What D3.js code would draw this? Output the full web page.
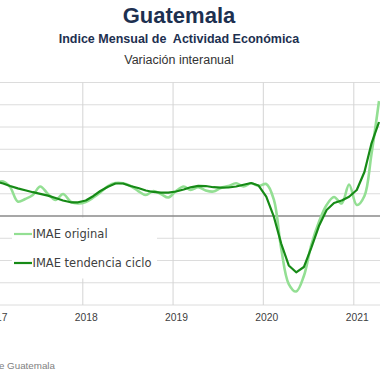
<!DOCTYPE html>
<html><head><meta charset="utf-8">
<script src="https://cdn.jsdelivr.net/npm/d3@7"></script>
<style>body{margin:0;background:#fff}svg{display:block}</style>
</head><body>
<svg id="c" width="380" height="380"></svg>
<script>
// Months Jan 2017 .. Apr 2021 (index 0 = Jan 2017)
const startYear = 2017;
const imaeOriginal = [4.45,4.65,3.91,1.95,2.29,2.83,3.98,2.97,2.16,2.97,1.95,1.69,
  1.89,2.49,3.17,4.04,4.45,4.41,4.04,3.37,2.83,3.37,2.97,2.49,
  3.37,3.98,3.51,3.87,3.44,3.30,3.78,4.04,4.41,3.98,4.41,4.04,
  4.31,2.16,-4.31,-9.17,-10.18,-8.09,-3.91,-0.81,1.48,2.56,1.69,4.25,
  1.48,2.70,8.22,15.50];
const imaeTendencia = [4.65,4.38,4.04,3.73,3.47,3.21,2.99,2.74,2.43,2.09,1.85,1.85,
  2.09,2.70,3.37,3.95,4.38,4.38,4.04,3.78,3.44,3.24,3.15,3.15,
  3.30,3.57,3.87,4.07,4.04,3.88,3.83,3.84,3.98,4.21,4.45,4.11,
  2.60,-0.13,-3.68,-6.67,-7.59,-6.88,-4.31,-1.35,0.81,1.75,2.09,2.60,
  3.51,5.93,9.71,12.67];
const yearTicks = [2017,2018,2019,2020,2021];
const yGridValues = [-12,-9,-6,-3,0,3,6,9,12,15,18];
const seriesNames = ["IMAE original","IMAE tendencia ciclo"];
const titleText = "Guatemala";
const subtitleText = "Indice Mensual de  Actividad Económica";
const subsubText = "Variación interanual";
const sourceText = "Fuente: Banco de Guatemala";

const colors = {orig:"#93df93", trend:"#168a16"};
const svg = d3.select("#c");
const plotTop = 82.5, plotBottom = 305;

const x = d3.scaleTime()
  .domain([new Date(2018,0,1), new Date(2021,0,1)])
  .range([82.3, 353.3]);
const y = d3.scaleLinear().domain([-12,18]).range([plotBottom, plotTop]);
const dateOf = i => new Date(startYear, i, 15);

// horizontal gridlines
svg.append("g").selectAll("line").data(yGridValues.filter(v=>v!==0)).join("line")
  .attr("x1",0).attr("x2",380)
  .attr("y1",d=>y(d)).attr("y2",d=>y(d))
  .attr("stroke","#dcdcdc").attr("stroke-width",1);

// x axis with vertical gridlines
const xAxis = d3.axisBottom(x)
  .tickValues(yearTicks.map(yr=>new Date(yr,0,1)))
  .tickSize(-(plotBottom-plotTop))
  .tickPadding(9)
  .tickFormat(d3.timeFormat("%Y"));
const gx = svg.append("g").attr("transform",`translate(0,${plotBottom})`).call(xAxis);
gx.select(".domain").remove();
gx.selectAll(".tick line").attr("stroke","#d4d4d4").attr("stroke-width",1);
gx.selectAll(".tick text")
  .attr("dx", 3.5)
  .attr("fill","#404040")
  .style("font-family","'Liberation Sans', Arial, sans-serif")
  .style("font-size","10.3px");

// zero line
svg.append("line").attr("x1",0).attr("x2",380)
  .attr("y1",y(0)).attr("y2",y(0))
  .attr("stroke","#8a8a8a").attr("stroke-width",1.3);

// legend background
const legend = svg.append("g");
legend.append("rect").attr("x",12).attr("y",217.5).attr("width",145).attr("height",61)
  .attr("fill","#fff");
const legItems = [{name:seriesNames[0], c:colors.orig, w:2.2, yy:234},
                  {name:seriesNames[1], c:colors.trend, w:2.2, yy:263}];
legItems.forEach(it=>{
  legend.append("line").attr("x1",14).attr("x2",32).attr("y1",it.yy).attr("y2",it.yy)
    .attr("stroke",it.c).attr("stroke-width",it.w);
  legend.append("text").attr("x",32.5).attr("y",it.yy+4.2).text(it.name)
    .attr("fill","#404040")
    .style("font-family","'DejaVu Sans', sans-serif").style("font-size","11.5px");
});

// lines
const lineOrig = d3.line().x((d,i)=>x(dateOf(i))).y(d=>y(d)).curve(d3.curveCatmullRom.alpha(0.5));
const lineTrend = d3.line().x((d,i)=>x(dateOf(i))).y(d=>y(d)).curve(d3.curveLinear);
svg.append("path").datum(imaeOriginal).attr("d",lineOrig)
  .attr("fill","none").attr("stroke",colors.orig).attr("stroke-width",2.6)
  .attr("stroke-linejoin","round");
svg.append("path").datum(imaeTendencia).attr("d",lineTrend)
  .attr("fill","none").attr("stroke",colors.trend).attr("stroke-width",2.2)
  .attr("stroke-linejoin","round");

// titles
svg.append("text").attr("x",179).attr("y",23).attr("text-anchor","middle")
  .text(titleText).attr("fill","#1d3050")
  .style("font-family","'Liberation Sans', Arial, sans-serif").style("font-weight","bold").style("font-size","22px");
svg.append("text").attr("x",179).attr("y",43).attr("text-anchor","middle")
  .text(subtitleText).attr("fill","#1d3050")
  .style("font-family","'Liberation Sans', Arial, sans-serif").style("font-weight","bold").style("font-size","12.5px").style("white-space","pre");
svg.append("text").attr("x",179).attr("y",64).attr("text-anchor","middle")
  .text(subsubText).attr("fill","#333")
  .style("font-family","'Liberation Sans', Arial, sans-serif").style("font-size","12.5px");

// source
svg.append("text").attr("x",55).attr("y",369).attr("text-anchor","end")
  .text(sourceText).attr("fill","#808080")
  .style("font-family","'Liberation Sans', Arial, sans-serif").style("font-size","9.8px");
</script>
</body></html>
